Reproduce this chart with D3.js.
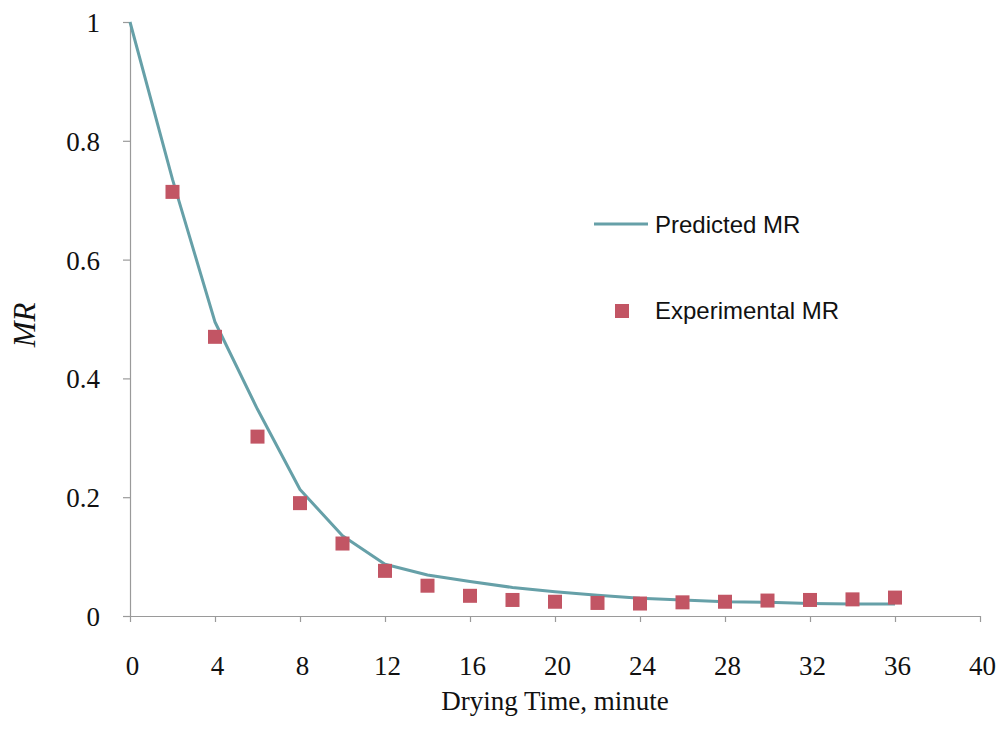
<!DOCTYPE html>
<html>
<head>
<meta charset="utf-8">
<script src="https://cdn.jsdelivr.net/npm/d3@7/dist/d3.min.js"></script>
<style>
  html, body { margin: 0; padding: 0; background: #fff; }
  svg { display: block; }
</style>
</head>
<body>
<svg id="chart" width="1001" height="738"></svg>
<script>
// ---- data ----
const predTime = [0, 2, 4, 6, 8, 10, 12, 14, 16, 18, 20, 22, 24, 26, 28, 30, 32, 34, 36];
const predMR   = [1.0, 0.735, 0.495, 0.348, 0.213, 0.135, 0.087, 0.069, 0.058, 0.048, 0.041, 0.035, 0.030, 0.027, 0.024, 0.023, 0.021, 0.020, 0.020];
const expTime  = [2, 4, 6, 8, 10, 12, 14, 16, 18, 20, 22, 24, 26, 28, 30, 32, 34, 36];
const expMR    = [0.714, 0.470, 0.302, 0.190, 0.122, 0.076, 0.051, 0.034, 0.027, 0.024, 0.022, 0.021, 0.023, 0.024, 0.026, 0.027, 0.028, 0.031];
const xTicks = [0, 4, 8, 12, 16, 20, 24, 28, 32, 36, 40];
const yTicks = [0, 0.2, 0.4, 0.6, 0.8, 1];
const xTitle = "Drying Time, minute";
const yTitle = "MR";
const legendLabels = ["Predicted MR", "Experimental MR"];

// ---- layout ----
const svg = d3.select("#chart");
const x = d3.scaleLinear().domain([0, 40]).range([130, 980]);
const y = d3.scaleLinear().domain([0, 1]).range([616, 22]);
const lineColor = "#66a0a8";
const markColor = "#c25564";
const axisColor = "#9a9a9a";
const serif = "'Liberation Serif', 'Times New Roman', serif";
const sans = "'Liberation Sans', Arial, sans-serif";

// x axis
const xAxis = d3.axisBottom(x).tickValues(xTicks).tickSize(6).tickFormat(d3.format("d"));
const gx = svg.append("g").attr("transform", `translate(0,${y(0)})`).call(xAxis);
gx.select(".domain").attr("d", `M${x(0) - 7},0.5H${x(40)}`).attr("stroke", axisColor).attr("stroke-width", 1.2);
gx.selectAll(".tick line").attr("stroke", axisColor).attr("stroke-width", 1.2);
gx.selectAll(".tick text")
  .attr("y", 59).attr("dy", 0).attr("dx", 2)
  .attr("fill", "#111").style("font-family", serif).style("font-size", "27px");

// y axis
const yAxis = d3.axisLeft(y).tickValues(yTicks).tickSize(7).tickFormat(d => d === 0 ? "0" : d === 1 ? "1" : d3.format(".1f")(d));
const gy = svg.append("g").attr("transform", `translate(${x(0)},0)`).call(yAxis);
gy.select(".domain").attr("d", `M0.5,${y(0)}V${y(1)}`).attr("stroke", axisColor).attr("stroke-width", 1.2);
gy.selectAll(".tick line").attr("stroke", axisColor).attr("stroke-width", 1.2);
gy.selectAll(".tick text")
  .attr("x", -30).attr("dy", "0.35em")
  .attr("fill", "#111").style("font-family", serif).style("font-size", "27px");

// axis titles
svg.append("text")
  .attr("x", (x(0) + x(40)) / 2).attr("y", 710)
  .attr("text-anchor", "middle")
  .style("font-family", serif).style("font-size", "27px").attr("fill", "#111")
  .text(xTitle);

svg.append("text")
  .attr("transform", `translate(35,${y(0.49)}) rotate(-90)`)
  .attr("text-anchor", "middle")
  .style("font-family", serif).style("font-size", "31px").style("font-style", "italic").attr("fill", "#111")
  .text(yTitle);

// predicted line
const predData = predTime.map((t, i) => ({ t, v: predMR[i] }));
svg.append("path")
  .datum(predData)
  .attr("fill", "none")
  .attr("stroke", lineColor)
  .attr("stroke-width", 3)
  .attr("stroke-linejoin", "round")
  .attr("d", d3.line().x(d => x(d.t)).y(d => y(d.v)));

// experimental markers
const expData = expTime.map((t, i) => ({ t, v: expMR[i] }));
const ms = 14;
svg.append("g").selectAll("rect")
  .data(expData)
  .join("rect")
  .attr("x", d => x(d.t) - ms / 2)
  .attr("y", d => y(d.v) - ms / 2)
  .attr("width", ms).attr("height", ms)
  .attr("fill", markColor);

// legend
const lg = svg.append("g");
lg.append("line")
  .attr("x1", 594).attr("x2", 648).attr("y1", 224).attr("y2", 224)
  .attr("stroke", lineColor).attr("stroke-width", 3);
lg.append("text")
  .attr("x", 655).attr("y", 233)
  .style("font-family", sans).style("font-size", "24px").attr("fill", "#111")
  .text(legendLabels[0]);
lg.append("rect")
  .attr("x", 622 - ms / 2).attr("y", 311 - ms / 2).attr("width", ms).attr("height", ms)
  .attr("fill", markColor);
lg.append("text")
  .attr("x", 655).attr("y", 319)
  .style("font-family", sans).style("font-size", "24px").attr("fill", "#111")
  .text(legendLabels[1]);
</script>
</body>
</html>
